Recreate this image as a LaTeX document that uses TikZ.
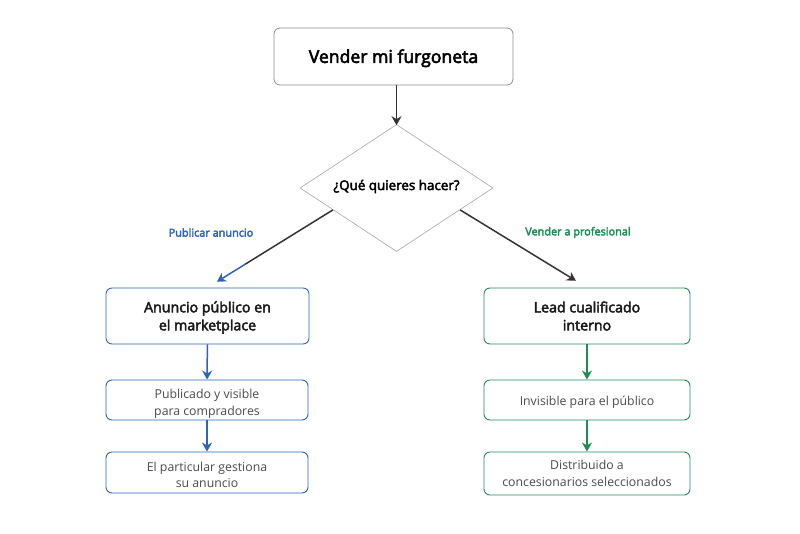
\documentclass[tikz,border=0pt]{standalone}
\usepackage{fontspec}
\setmainfont{Open Sans}[BoldFont={Open Sans},BoldFeatures={FakeBold=3.2}]
\usetikzlibrary{shapes.geometric,calc,arrows.meta}
\definecolor{azul}{HTML}{2B63C0}
\definecolor{verde}{HTML}{1E8E57}
\definecolor{oscuro}{HTML}{333333}
\definecolor{texto}{HTML}{4A4A4A}
\tikzset{
    caja/.style={draw, rounded corners=6pt, align=center, inner sep=0pt, line width=.9pt},
    bajar/.style={execute at begin node=\rule{0pt}{#1pt}},
    titulo/.style={caja, font=\fontsize{14.2}{18}\selectfont\bfseries, text=black!90},
    paso/.style={caja, font=\fontsize{12.3}{16.5}\selectfont, text=texto},
    flecha/.style={line width=1.5pt, -{Stealth[length=9pt,width=10pt]}},
    etiqueta/.style={font=\fontsize{10.9}{12}\selectfont\bfseries},
}
\begin{document}
\begin{tikzpicture}[x=1pt,y=-1pt]
    \useasboundingbox (0,0) rectangle (800,533);

    \node[caja, draw=black!45, line width=.8pt, minimum width=239pt, minimum height=57pt,
        font=\fontsize{17.6}{20}\selectfont\bfseries, text=black, bajar=17] (inicio) at (393.5,56.5) {Vender mi furgoneta};
    \node[diamond, draw=black!35, line width=.6pt, inner sep=0pt, minimum width=193pt, minimum height=127pt,
        aspect=1.52] (decision) at (396.5,188) {};
    \node[font=\fontsize{13.4}{15}\selectfont\bfseries, text=black, inner sep=0pt] (pregunta) at (396.5,186.5) {¿Qué quieres hacer?};

    % rama izquierda
    \node[titulo, bajar=32, draw=azul, minimum width=203pt, minimum height=56pt] (anuncio) at (207.5,316) {Anuncio público en\\el marketplace};
    \node[paso, bajar=33, draw=azul, minimum width=202pt, minimum height=40pt] (publicado) at (207,400) {Publicado y visible\\para compradores};
    \node[paso, bajar=31, draw=azul, minimum width=202pt, minimum height=41pt] (gestiona) at (207,472.5) {El particular gestiona\\su anuncio};

    % rama derecha
    \node[titulo, draw=verde, minimum width=206pt, minimum height=56pt] (lead) at (587,316) {Lead cualificado\\interno};
    \node[paso, bajar=14.5, draw=verde, minimum width=206pt, minimum height=40pt] (invisible) at (587,400) {Invisible para el público};
    \node[paso, draw=verde, minimum width=206pt, minimum height=43pt] (distribuido) at (587,473.5) {Distribuido a\\concesionarios seleccionados};

    \node[etiqueta, text=azul] (pub) at (211,232.5) {Publicar anuncio};
    \node[etiqueta, text=verde] (ven) at (578,232.5) {Vender a profesional};

    \draw[flecha, oscuro] (inicio.south -| decision.north) -- ([yshift=-1pt]decision.north);

    \draw[line width=1.5pt, oscuro] (decision.199) -- ($(decision.199)!.7!(anuncio.north)$);
    \draw[flecha, azul, shorten >=11pt] ($(decision.199)!.7!(anuncio.north)$) -- (anuncio.north);
    \draw[flecha, oscuro, shorten >=13pt] (decision.-19) -- (lead.north);

    \draw[flecha, azul] (anuncio) -- (publicado);
    \draw[flecha, azul] (publicado) -- (gestiona);
    \draw[flecha, verde] (lead) -- (invisible);
    \draw[flecha, verde] (invisible) -- (distribuido);
\end{tikzpicture}
\end{document}
